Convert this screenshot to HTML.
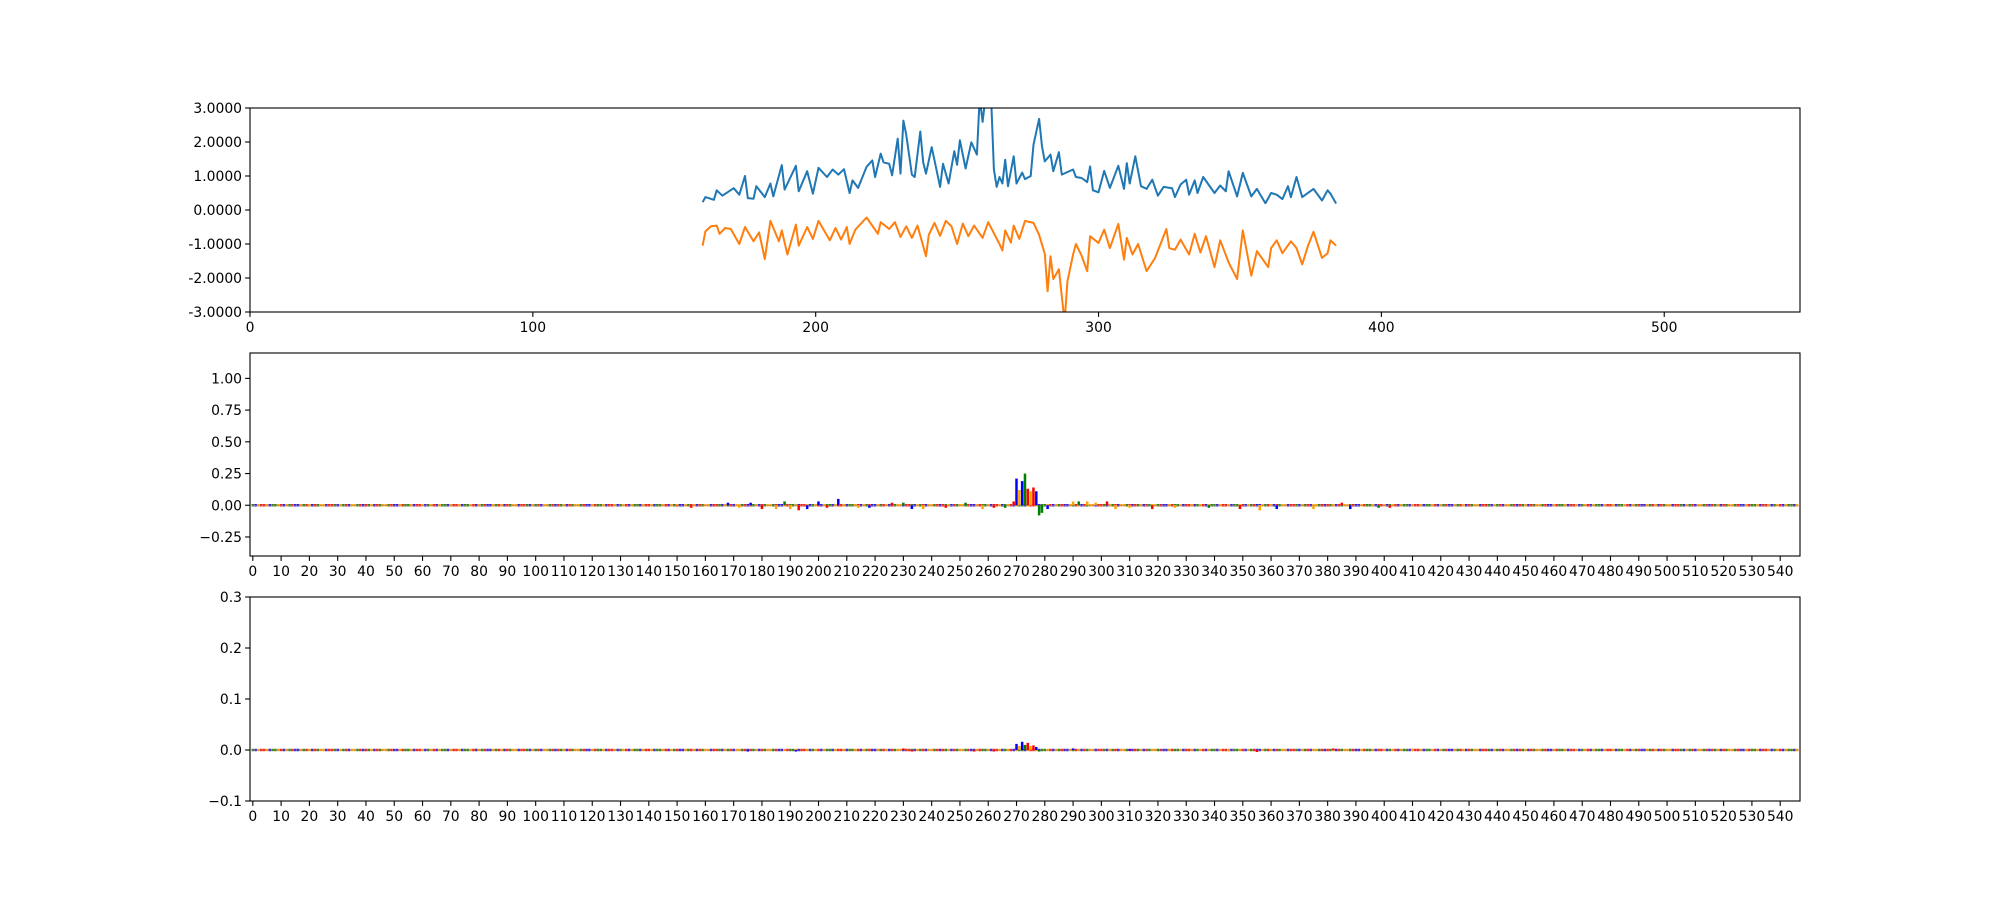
<!DOCTYPE html>
<html><head><meta charset="utf-8"><style>
html,body{margin:0;padding:0;background:#fff}
svg text{font-family:"DejaVu Sans","Liberation Sans",sans-serif;font-size:13.9px;fill:#000}
</style></head><body>
<svg id="fig" width="2000" height="900" xmlns="http://www.w3.org/2000/svg"></svg>
<script>
// ---- data: top panel ----
const blueX=[160,161,164,165,167,171,173,175,176,178,179,182,184,185,188,189,193,194,197,199,201,204,206,208,210,212,213,215,218,220,221,223,224,226,227,229,230,231,232,234,235,237,238,239,241,244,245,247,249,250,251,253,255,257,258,259,260,261,262,263,264,265,266,267,268,270,271,273,274,276,277,279,280,281,283,284,286,287,291,292,294,296,297,298,300,302,304,307,309,310,311,313,315,317,319,321,323,326,327,329,331,332,334,335,337,341,343,345,346,349,351,354,356,359,361,363,365,367,368,370,372,376,379,381,382,384];
const blueY=[0.23,0.38,0.3,0.58,0.42,0.64,0.45,1.0,0.35,0.33,0.7,0.38,0.78,0.4,1.32,0.6,1.3,0.55,1.14,0.48,1.24,0.97,1.19,1.04,1.2,0.5,0.87,0.65,1.27,1.46,0.97,1.66,1.4,1.36,1.02,2.1,1.07,2.63,2.22,1.04,0.97,2.31,1.4,1.07,1.85,0.68,1.36,0.78,1.73,1.33,2.05,1.22,1.99,1.63,3.3,2.59,3.3,3.3,3.3,1.19,0.68,0.97,0.78,1.48,0.7,1.58,0.78,1.1,0.91,1.0,1.92,2.68,1.87,1.43,1.63,1.14,1.7,1.04,1.19,0.97,0.94,0.82,1.28,0.58,0.52,1.15,0.65,1.3,0.62,1.38,0.78,1.58,0.7,0.62,0.89,0.42,0.68,0.64,0.38,0.75,0.89,0.45,0.87,0.5,0.97,0.5,0.72,0.55,1.14,0.4,1.09,0.4,0.62,0.2,0.5,0.45,0.32,0.7,0.38,0.97,0.38,0.62,0.28,0.58,0.48,0.19];
const orangeX=[160,161,163,165,166,168,170,173,175,178,180,182,184,187,188,190,193,194,197,199,201,205,207,209,211,212,214,218,222,223,226,228,230,232,234,236,239,240,242,244,246,248,250,252,254,256,259,261,265,266,267,269,270,272,274,277,279,281,282,283,284,286,288,289,291,292,294,296,297,300,302,304,307,309,310,312,314,317,320,324,325,327,329,332,334,336,338,341,343,346,349,351,354,356,360,361,363,365,368,370,372,374,376,379,381,382,384];
const orangeY=[-1.05,-0.63,-0.48,-0.46,-0.7,-0.53,-0.56,-1.0,-0.5,-0.92,-0.66,-1.44,-0.32,-0.92,-0.6,-1.31,-0.43,-1.05,-0.5,-0.85,-0.32,-0.89,-0.53,-0.87,-0.5,-1.0,-0.58,-0.22,-0.7,-0.36,-0.56,-0.36,-0.79,-0.48,-0.82,-0.46,-1.36,-0.73,-0.38,-0.76,-0.32,-0.48,-1.0,-0.4,-0.77,-0.46,-0.82,-0.36,-1.0,-1.19,-0.6,-0.96,-0.46,-0.85,-0.32,-0.38,-0.73,-1.29,-2.39,-1.36,-2.03,-1.74,-3.3,-2.1,-1.31,-1.0,-1.34,-1.8,-0.77,-0.97,-0.58,-1.12,-0.41,-1.46,-0.82,-1.31,-1.0,-1.8,-1.41,-0.56,-1.12,-1.17,-0.87,-1.31,-0.7,-1.25,-0.77,-1.68,-0.89,-1.54,-2.03,-0.6,-1.93,-1.21,-1.68,-1.12,-0.89,-1.27,-0.92,-1.12,-1.6,-1.07,-0.64,-1.41,-1.27,-0.89,-1.05];
const topYTicks=[3,2,1,0,-1,-2,-3];
const topXTicks=[0,100,200,300,400,500];
// ---- data: logo panels (position, height, base) ----
const logo1Pos=[150,155,168,172,176,180,185,188,190,193,196,200,203,207,214,218,226,230,233,237,245,252,258,262,266,269,270,271,272,273,274,275,276,277,278,279,281,290,292,295,298,302,305,310,318,326,338,349,356,362,375,385,388,398,402];
const logo1Val=[0.01,-0.02,0.02,-0.02,0.02,-0.03,-0.03,0.03,-0.03,-0.04,-0.03,0.03,-0.02,0.05,-0.02,-0.02,0.02,0.02,-0.03,-0.03,-0.02,0.02,-0.03,-0.02,-0.02,0.03,0.21,0.12,0.19,0.25,0.13,0.11,0.14,0.11,-0.08,-0.06,-0.03,0.03,0.03,0.03,0.02,0.03,-0.03,-0.02,-0.03,-0.02,-0.02,-0.03,-0.04,-0.03,-0.03,0.02,-0.03,-0.02,-0.02];
const logo1Base=["G","T","C","G","C","T","G","A","G","T","C","C","T","C","G","C","T","A","C","G","T","A","G","T","A","T","C","G","C","A","T","G","T","C","A","A","C","G","A","G","G","T","G","G","T","G","A","T","G","C","G","T","C","A","T"];
const logo2Pos=[175,192,230,233,255,262,270,271,272,273,274,275,276,277,278,290,310,345,355,382,410];
const logo2Val=[-0.002,-0.003,0.003,-0.003,-0.003,-0.002,0.012,0.008,0.016,0.01,0.014,0.008,0.009,0.006,-0.003,0.003,0.002,-0.002,-0.004,0.003,0.003];
const logo2Base=["C","C","T","T","T","T","C","G","C","A","T","G","T","C","A","C","C","G","T","T","G"];
const logoYTicks1=[-0.25,0,0.25,0.5,0.75,1.0];
const logoYTicks2=[-0.1,0,0.1,0.2,0.3];
const seq="ACGTTGCAAGTCGATCCGATGCTAGGCTTACGATCGGATCTAGCTAGGATCCGTAAGCTTGCAGTCGA";

const NS="http://www.w3.org/2000/svg";
const svg=document.getElementById('fig');
function mk(tag,attrs,parent){const e=document.createElementNS(NS,tag);for(const k in attrs)e.setAttribute(k,attrs[k]);(parent||svg).appendChild(e);return e;}
const colors={A:"#008000",C:"#0000ff",G:"#ffa500",T:"#ff0000"};
const L=250,R=1800;
function panel(name,top,bot,xmin,xmax,ymin,ymax){
  const g=mk('g',{});
  
  
  return {g,top,bot,sx:v=>L+(v-xmin)/(xmax-xmin)*(R-L),sy:v=>bot-(v-ymin)/(ymax-ymin)*(bot-top)};
}
function frame(p){
  const r=mk('rect',{x:L,y:p.top,width:R-L,height:p.bot-p.top,fill:'none',stroke:'#000','stroke-width':1.1},p.g);
  
  
}
function yticks(p,ticks,fmt){
  const g=mk('g',{},p.g);
  
  
  ticks.forEach(t=>{const y=p.sy(t);
    mk('line',{x1:L-4.9,x2:L,y1:y,y2:y,stroke:'#000','stroke-width':1.1},g);
    const tx=mk('text',{x:L-8,y:y+5,'text-anchor':'end'},g);tx.textContent=fmt(t);});
}
function xticks(p,ticks){
  const g=mk('g',{},p.g);
  
  
  ticks.forEach(t=>{const x=p.sx(t);
    mk('line',{x1:x,x2:x,y1:p.bot,y2:p.bot+4.9,stroke:'#000','stroke-width':1.1},g);
    const tx=mk('text',{x:x,y:p.bot+20,'text-anchor':'middle'},g);tx.textContent=String(t);});
}
// ---- top panel ----
const p1=panel('score-panel',108,312,0,548,-3,3);
const cp=mk('clipPath',{id:'c1'});mk('rect',{x:L,y:108,width:R-L,height:204},cp);
function line(xs,ys,col,name){
  const d=xs.map((x,i)=>(i?'L':'M')+p1.sx(x).toFixed(1)+' '+p1.sy(ys[i]).toFixed(1)).join(' ');
  const pa=mk('path',{d,fill:'none',stroke:col,'stroke-width':2,'clip-path':'url(#c1)','stroke-linejoin':'round'},p1.g);
  
  
}
line(blueX,blueY,'#1f77b4','line-forward');
line(orangeX,orangeY,'#ff7f0e','line-reverse');
frame(p1);
yticks(p1,topYTicks,t=>t.toFixed(4).replace('-','-'));
xticks(p1,topXTicks);
// ---- logo panels ----
function logo(name,top,bot,ymin,ymax,ticks,fmt,pos,val,base){
  const p=panel(name,top,bot,-1,547,ymin,ymax);
  const ng=mk('g',{},p.g);
  
  
  const y0=p.sy(0);
  for(let i=0;i<547;i++){const c=colors[seq[i%seq.length]];
    mk('rect',{x:p.sx(i-0.45),y:y0-1.2,width:2.5,height:2.4,fill:c},ng);}
  mk('line',{x1:p.sx(-0.5),x2:p.sx(546.5),y1:y0,y2:y0,stroke:'#c08060','stroke-width':0.8},ng);
  pos.forEach((x,i)=>{const y=p.sy(val[i]);
    const r=mk('rect',{x:p.sx(x-0.45),y:Math.min(y,y0),width:2.5,height:Math.max(1.5,Math.abs(y-y0)),fill:colors[base[i]]},p.g);
    
    });
  frame(p);yticks(p,ticks,fmt);
  const xt=[];for(let t=0;t<=540;t+=10)xt.push(t);xticks(p,xt);
}
logo('attribution-logo-1',353,556,-0.4,1.2,logoYTicks1,t=>t<0?'\u2212'+Math.abs(t).toFixed(2):t.toFixed(2),logo1Pos,logo1Val,logo1Base);
logo('attribution-logo-2',597,801,-0.1,0.3,logoYTicks2,t=>t<0?'\u2212'+Math.abs(t).toFixed(1):t.toFixed(1),logo2Pos,logo2Val,logo2Base);
</script>
</body></html>
